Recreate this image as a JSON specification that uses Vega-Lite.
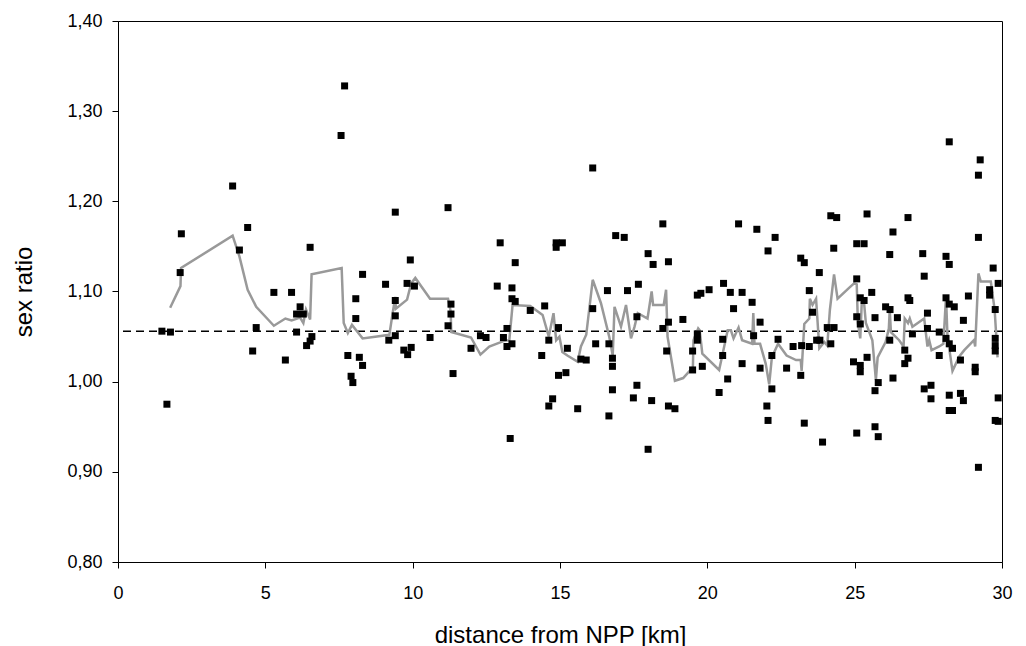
{
  "$schema": "https://vega.github.io/schema/vega-lite/v6.json",
  "width": 884,
  "height": 541,
  "autosize": {"type": "none"},
  "padding": {"left": 118, "top": 21, "right": 24, "bottom": 84},
  "background": "white",
  "config": {
    "view": {"stroke": "black", "strokeWidth": 1},
    "font": "Liberation Sans",
    "axis": {
      "grid": false,
      "domainColor": "black",
      "tickColor": "black",
      "tickSize": 6,
      "labelColor": "black",
      "titleColor": "black",
      "labelFont": "Liberation Sans",
      "titleFont": "Liberation Sans",
      "labelFontSize": 18,
      "titleFontSize": 24,
      "titleFontWeight": "normal"
    }
  },
  "datasets": {
    "pts": [
      {"x": 3.89, "y": 1.217}, {"x": 4.40, "y": 1.171}, {"x": 2.15, "y": 1.164}, {"x": 4.12, "y": 1.146}, {"x": 2.11, "y": 1.121},
      {"x": 1.49, "y": 1.056}, {"x": 1.78, "y": 1.055}, {"x": 4.69, "y": 1.060}, {"x": 4.57, "y": 1.034}, {"x": 1.66, "y": 0.975},
      {"x": 7.69, "y": 1.328}, {"x": 7.57, "y": 1.273}, {"x": 9.41, "y": 1.188}, {"x": 6.52, "y": 1.149}, {"x": 9.92, "y": 1.135},
      {"x": 8.30, "y": 1.119}, {"x": 5.29, "y": 1.099}, {"x": 5.89, "y": 1.099}, {"x": 9.08, "y": 1.108}, {"x": 9.81, "y": 1.109},
      {"x": 10.06, "y": 1.106}, {"x": 6.18, "y": 1.083}, {"x": 6.06, "y": 1.075}, {"x": 6.29, "y": 1.075}, {"x": 8.07, "y": 1.092},
      {"x": 9.41, "y": 1.090}, {"x": 8.07, "y": 1.070}, {"x": 9.41, "y": 1.073}, {"x": 6.06, "y": 1.055}, {"x": 6.58, "y": 1.050},
      {"x": 6.52, "y": 1.045}, {"x": 6.40, "y": 1.040}, {"x": 9.41, "y": 1.051}, {"x": 9.19, "y": 1.046}, {"x": 9.70, "y": 1.035},
      {"x": 9.83, "y": 1.030}, {"x": 9.95, "y": 1.038}, {"x": 5.68, "y": 1.024}, {"x": 7.80, "y": 1.029}, {"x": 8.19, "y": 1.027},
      {"x": 8.30, "y": 1.018}, {"x": 7.91, "y": 1.006}, {"x": 7.97, "y": 0.999},
      {"x": 11.20, "y": 1.193}, {"x": 12.97, "y": 1.154}, {"x": 14.87, "y": 1.154}, {"x": 14.87, "y": 1.149}, {"x": 13.48, "y": 1.132},
      {"x": 12.87, "y": 1.106}, {"x": 13.37, "y": 1.104}, {"x": 13.37, "y": 1.092}, {"x": 13.48, "y": 1.089}, {"x": 11.30, "y": 1.086},
      {"x": 11.30, "y": 1.075}, {"x": 11.20, "y": 1.062}, {"x": 13.99, "y": 1.079}, {"x": 14.48, "y": 1.084}, {"x": 13.20, "y": 1.059},
      {"x": 10.59, "y": 1.049}, {"x": 12.30, "y": 1.051}, {"x": 12.49, "y": 1.049}, {"x": 13.08, "y": 1.049}, {"x": 11.98, "y": 1.037},
      {"x": 13.20, "y": 1.039}, {"x": 13.37, "y": 1.042}, {"x": 14.62, "y": 1.046}, {"x": 14.95, "y": 1.060}, {"x": 14.38, "y": 1.029},
      {"x": 11.37, "y": 1.009}, {"x": 14.95, "y": 1.007}, {"x": 14.75, "y": 0.981}, {"x": 14.62, "y": 0.973}, {"x": 13.31, "y": 0.937},
      {"x": 16.11, "y": 1.237}, {"x": 15.08, "y": 1.154}, {"x": 18.49, "y": 1.175}, {"x": 16.89, "y": 1.162}, {"x": 17.18, "y": 1.160},
      {"x": 17.99, "y": 1.142}, {"x": 18.16, "y": 1.130}, {"x": 18.68, "y": 1.133}, {"x": 17.66, "y": 1.108}, {"x": 16.61, "y": 1.101},
      {"x": 17.29, "y": 1.101}, {"x": 19.66, "y": 1.096}, {"x": 19.78, "y": 1.098}, {"x": 16.11, "y": 1.081}, {"x": 17.61, "y": 1.072},
      {"x": 18.68, "y": 1.066}, {"x": 18.49, "y": 1.059}, {"x": 19.17, "y": 1.069}, {"x": 19.66, "y": 1.053}, {"x": 19.66, "y": 1.046},
      {"x": 15.25, "y": 1.037}, {"x": 16.21, "y": 1.042}, {"x": 16.66, "y": 1.042}, {"x": 18.62, "y": 1.034}, {"x": 19.50, "y": 1.034},
      {"x": 15.71, "y": 1.025}, {"x": 15.89, "y": 1.024}, {"x": 16.78, "y": 1.026}, {"x": 16.78, "y": 1.017}, {"x": 19.50, "y": 1.013},
      {"x": 19.83, "y": 1.017}, {"x": 15.20, "y": 1.010}, {"x": 15.60, "y": 0.970}, {"x": 16.78, "y": 0.991}, {"x": 17.61, "y": 0.996},
      {"x": 17.49, "y": 0.982}, {"x": 18.11, "y": 0.979}, {"x": 18.68, "y": 0.973}, {"x": 18.90, "y": 0.970}, {"x": 16.66, "y": 0.962},
      {"x": 17.99, "y": 0.925},
      {"x": 24.19, "y": 1.184}, {"x": 24.39, "y": 1.182}, {"x": 21.06, "y": 1.175}, {"x": 21.68, "y": 1.169}, {"x": 22.30, "y": 1.160},
      {"x": 22.06, "y": 1.145}, {"x": 24.29, "y": 1.148}, {"x": 23.17, "y": 1.137}, {"x": 23.29, "y": 1.132}, {"x": 23.80, "y": 1.121},
      {"x": 20.55, "y": 1.109}, {"x": 20.06, "y": 1.102}, {"x": 20.78, "y": 1.099}, {"x": 21.18, "y": 1.099}, {"x": 23.46, "y": 1.101},
      {"x": 20.89, "y": 1.081}, {"x": 21.52, "y": 1.088}, {"x": 23.57, "y": 1.077}, {"x": 21.79, "y": 1.066}, {"x": 24.07, "y": 1.060},
      {"x": 24.30, "y": 1.060}, {"x": 20.52, "y": 1.047}, {"x": 21.57, "y": 1.051}, {"x": 22.40, "y": 1.047}, {"x": 22.91, "y": 1.039},
      {"x": 23.20, "y": 1.040}, {"x": 23.46, "y": 1.039}, {"x": 23.71, "y": 1.046}, {"x": 23.82, "y": 1.046}, {"x": 24.19, "y": 1.042},
      {"x": 20.52, "y": 1.029}, {"x": 22.19, "y": 1.029}, {"x": 21.18, "y": 1.020}, {"x": 21.79, "y": 1.015}, {"x": 22.69, "y": 1.015},
      {"x": 23.17, "y": 1.007}, {"x": 20.69, "y": 1.003}, {"x": 20.40, "y": 0.988}, {"x": 22.19, "y": 0.992}, {"x": 22.02, "y": 0.973},
      {"x": 22.06, "y": 0.957}, {"x": 23.29, "y": 0.954}, {"x": 23.91, "y": 0.933},
      {"x": 28.21, "y": 1.266}, {"x": 29.26, "y": 1.246}, {"x": 29.20, "y": 1.229}, {"x": 25.42, "y": 1.186}, {"x": 26.81, "y": 1.182},
      {"x": 26.30, "y": 1.166}, {"x": 29.20, "y": 1.160}, {"x": 25.07, "y": 1.153}, {"x": 25.32, "y": 1.153}, {"x": 26.19, "y": 1.141},
      {"x": 27.31, "y": 1.142}, {"x": 28.10, "y": 1.139}, {"x": 28.21, "y": 1.130}, {"x": 27.36, "y": 1.117}, {"x": 29.70, "y": 1.126},
      {"x": 29.87, "y": 1.109}, {"x": 25.07, "y": 1.114}, {"x": 29.58, "y": 1.102}, {"x": 29.58, "y": 1.096}, {"x": 25.58, "y": 1.099},
      {"x": 25.19, "y": 1.093}, {"x": 25.32, "y": 1.090}, {"x": 26.81, "y": 1.093}, {"x": 26.87, "y": 1.090}, {"x": 28.10, "y": 1.093},
      {"x": 28.86, "y": 1.095}, {"x": 28.21, "y": 1.086}, {"x": 28.38, "y": 1.083}, {"x": 26.05, "y": 1.083}, {"x": 26.20, "y": 1.080},
      {"x": 29.77, "y": 1.080}, {"x": 25.07, "y": 1.072}, {"x": 25.19, "y": 1.064}, {"x": 25.69, "y": 1.071}, {"x": 26.45, "y": 1.071},
      {"x": 27.47, "y": 1.076}, {"x": 28.69, "y": 1.068}, {"x": 27.47, "y": 1.059}, {"x": 26.96, "y": 1.053}, {"x": 27.87, "y": 1.055},
      {"x": 28.10, "y": 1.048}, {"x": 28.21, "y": 1.042}, {"x": 28.32, "y": 1.037}, {"x": 26.19, "y": 1.046}, {"x": 26.70, "y": 1.035},
      {"x": 29.77, "y": 1.048}, {"x": 29.77, "y": 1.040}, {"x": 29.77, "y": 1.034}, {"x": 25.42, "y": 1.027}, {"x": 24.96, "y": 1.022},
      {"x": 25.19, "y": 1.018}, {"x": 25.19, "y": 1.011}, {"x": 26.81, "y": 1.026}, {"x": 26.70, "y": 1.020}, {"x": 27.87, "y": 1.029},
      {"x": 28.59, "y": 1.024}, {"x": 29.09, "y": 1.016}, {"x": 29.09, "y": 1.011}, {"x": 25.80, "y": 0.999}, {"x": 25.69, "y": 0.990},
      {"x": 26.30, "y": 1.004}, {"x": 27.36, "y": 0.992}, {"x": 27.59, "y": 0.996}, {"x": 27.59, "y": 0.981}, {"x": 28.21, "y": 0.985},
      {"x": 28.59, "y": 0.987}, {"x": 28.69, "y": 0.979}, {"x": 28.21, "y": 0.968}, {"x": 28.32, "y": 0.968}, {"x": 29.87, "y": 0.982},
      {"x": 29.77, "y": 0.957}, {"x": 29.87, "y": 0.956}, {"x": 25.07, "y": 0.943}, {"x": 25.69, "y": 0.950}, {"x": 25.80, "y": 0.939},
      {"x": 29.20, "y": 0.905}
    ],
    "trend": [
      {"x": 1.77, "y": 1.082}, {"x": 2.12, "y": 1.106}, {"x": 2.14, "y": 1.126}, {"x": 3.89, "y": 1.162}, {"x": 4.12, "y": 1.139},
      {"x": 4.40, "y": 1.102}, {"x": 4.69, "y": 1.083}, {"x": 5.29, "y": 1.062}, {"x": 5.68, "y": 1.070}, {"x": 5.89, "y": 1.068},
      {"x": 6.18, "y": 1.071}, {"x": 6.29, "y": 1.065}, {"x": 6.38, "y": 1.080}, {"x": 6.52, "y": 1.069}, {"x": 6.57, "y": 1.119},
      {"x": 7.59, "y": 1.126}, {"x": 7.66, "y": 1.065}, {"x": 7.80, "y": 1.054}, {"x": 7.94, "y": 1.063}, {"x": 8.13, "y": 1.055},
      {"x": 8.30, "y": 1.048}, {"x": 9.21, "y": 1.052}, {"x": 9.32, "y": 1.076}, {"x": 9.41, "y": 1.094}, {"x": 9.43, "y": 1.081},
      {"x": 9.81, "y": 1.091}, {"x": 9.95, "y": 1.109}, {"x": 10.09, "y": 1.115}, {"x": 10.59, "y": 1.092}, {"x": 11.20, "y": 1.092},
      {"x": 11.29, "y": 1.078}, {"x": 11.31, "y": 1.055}, {"x": 11.98, "y": 1.049}, {"x": 12.30, "y": 1.030}, {"x": 12.60, "y": 1.039},
      {"x": 13.08, "y": 1.045}, {"x": 13.28, "y": 1.046}, {"x": 13.39, "y": 1.085}, {"x": 13.99, "y": 1.084}, {"x": 14.41, "y": 1.074},
      {"x": 14.62, "y": 1.050}, {"x": 14.78, "y": 1.076}, {"x": 14.87, "y": 1.046}, {"x": 14.98, "y": 1.050}, {"x": 15.08, "y": 1.033},
      {"x": 15.25, "y": 1.029}, {"x": 15.60, "y": 1.022}, {"x": 15.71, "y": 1.039}, {"x": 15.89, "y": 1.052}, {"x": 16.11, "y": 1.113},
      {"x": 16.39, "y": 1.087}, {"x": 16.67, "y": 1.050}, {"x": 16.79, "y": 1.029}, {"x": 16.85, "y": 1.083}, {"x": 17.07, "y": 1.061},
      {"x": 17.24, "y": 1.085}, {"x": 17.41, "y": 1.048}, {"x": 17.53, "y": 1.061}, {"x": 17.64, "y": 1.076}, {"x": 17.97, "y": 1.070},
      {"x": 18.11, "y": 1.100}, {"x": 18.16, "y": 1.085}, {"x": 18.52, "y": 1.085}, {"x": 18.60, "y": 1.102}, {"x": 18.65, "y": 1.050},
      {"x": 18.90, "y": 1.001}, {"x": 19.18, "y": 1.004}, {"x": 19.51, "y": 1.016}, {"x": 19.53, "y": 1.046}, {"x": 19.69, "y": 1.059},
      {"x": 19.74, "y": 1.057}, {"x": 19.83, "y": 1.031}, {"x": 20.40, "y": 1.013}, {"x": 20.52, "y": 1.031}, {"x": 20.69, "y": 1.057},
      {"x": 20.80, "y": 1.057}, {"x": 20.89, "y": 1.048}, {"x": 21.06, "y": 1.060}, {"x": 21.18, "y": 1.046}, {"x": 21.52, "y": 1.042},
      {"x": 21.56, "y": 1.076}, {"x": 21.60, "y": 1.042}, {"x": 21.79, "y": 1.042}, {"x": 21.98, "y": 1.020}, {"x": 22.10, "y": 0.997},
      {"x": 22.19, "y": 1.027}, {"x": 22.40, "y": 1.042}, {"x": 22.69, "y": 1.029}, {"x": 23.01, "y": 1.024}, {"x": 23.17, "y": 1.024},
      {"x": 23.20, "y": 1.012}, {"x": 23.29, "y": 1.064}, {"x": 23.46, "y": 1.070}, {"x": 23.48, "y": 1.092}, {"x": 23.57, "y": 1.085},
      {"x": 23.69, "y": 1.092}, {"x": 23.80, "y": 1.037}, {"x": 23.97, "y": 1.044}, {"x": 24.07, "y": 1.040}, {"x": 24.16, "y": 1.080},
      {"x": 24.30, "y": 1.119}, {"x": 24.42, "y": 1.092}, {"x": 24.81, "y": 1.104}, {"x": 24.98, "y": 1.109}, {"x": 25.07, "y": 1.108},
      {"x": 25.11, "y": 1.065}, {"x": 25.19, "y": 1.048}, {"x": 25.24, "y": 1.087}, {"x": 25.32, "y": 1.087}, {"x": 25.38, "y": 1.065},
      {"x": 25.60, "y": 1.046}, {"x": 25.72, "y": 1.002}, {"x": 25.78, "y": 1.027}, {"x": 26.05, "y": 1.044}, {"x": 26.16, "y": 1.059},
      {"x": 26.19, "y": 1.080}, {"x": 26.23, "y": 1.055}, {"x": 26.51, "y": 1.046}, {"x": 26.66, "y": 1.039}, {"x": 26.70, "y": 1.070},
      {"x": 26.81, "y": 1.065}, {"x": 26.87, "y": 1.070}, {"x": 26.96, "y": 1.061}, {"x": 27.36, "y": 1.070}, {"x": 27.47, "y": 1.039},
      {"x": 27.53, "y": 1.046}, {"x": 27.61, "y": 1.035}, {"x": 27.87, "y": 1.039}, {"x": 28.01, "y": 1.042}, {"x": 28.10, "y": 1.094},
      {"x": 28.15, "y": 1.050}, {"x": 28.32, "y": 1.012}, {"x": 28.55, "y": 1.028}, {"x": 28.72, "y": 1.035}, {"x": 29.05, "y": 1.046},
      {"x": 29.09, "y": 1.039}, {"x": 29.20, "y": 1.120}, {"x": 29.28, "y": 1.111}, {"x": 29.62, "y": 1.111}, {"x": 29.75, "y": 1.080},
      {"x": 29.85, "y": 1.027}
    ]
  },
  "encoding": {
    "x": {
      "field": "x", "type": "quantitative",
      "scale": {"domain": [0, 30], "nice": false, "zero": false},
      "axis": {"values": [0, 5, 10, 15, 20, 25, 30], "title": "distance from NPP [km]", "labelPadding": 16, "titlePadding": 21, "labelFlush": false}
    },
    "y": {
      "field": "y", "type": "quantitative",
      "scale": {"domain": [0.8, 1.4], "nice": false, "zero": false},
      "axis": {"values": [0.8, 0.9, 1.0, 1.1, 1.2, 1.3, 1.4], "title": "sex ratio", "labelPadding": 10, "titlePadding": 30, "labelFlush": false,
        "labelExpr": "replace(format(datum.value, '.2f'), '.', ',')"}
    }
  },
  "layer": [
    {
      "data": {"values": [{"y": 1.056}]},
      "mark": {"type": "rule", "color": "black", "strokeDash": [8, 5], "strokeWidth": 1.5},
      "encoding": {"x": null}
    },
    {
      "data": {"name": "trend"},
      "mark": {"type": "line", "color": "#999999", "strokeWidth": 2.5}
    },
    {
      "data": {"name": "pts"},
      "mark": {"type": "point", "shape": "square", "filled": true, "color": "black", "opacity": 1, "size": 49}
    }
  ]
}
